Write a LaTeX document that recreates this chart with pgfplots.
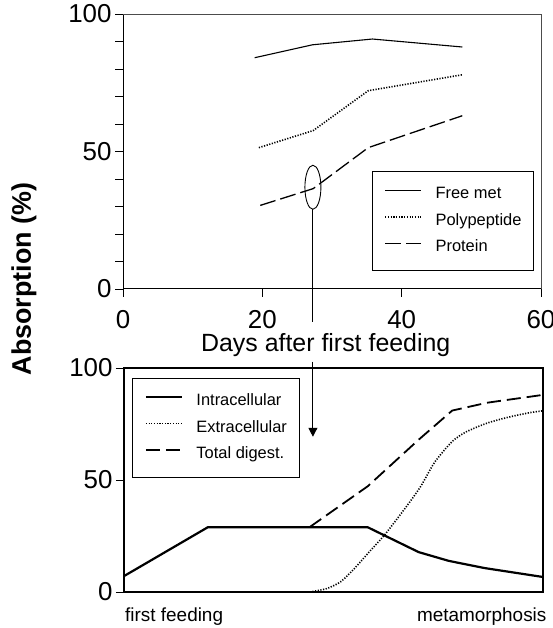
\documentclass[border=0pt]{standalone}
\usepackage{fontspec}
\setmainfont{Liberation Sans}
\usepackage{pgfplots}
\pgfplotsset{compat=1.18}
\usetikzlibrary{arrows.meta}

\pgfplotsset{
  legbox/.style={
    legend cell align=left,
    legend style={draw=black, line width=0.8bp, fill=white,
      font=\fontsize{16.5}{16.5}\selectfont,
      inner xsep=12bp, inner ysep=9.75bp, row sep=0pt, column sep=13.5bp,
      nodes={inner sep=0pt, text height=17.5bp, text depth=9bp}},
    legend image code/.code={\draw[##1] (0bp,4.5bp) -- (36bp,4.5bp);},
  },
}

\begin{document}
\begin{tikzpicture}
\path[use as bounding box] (0,0) rectangle (553bp,628bp);

% upper panel
\begin{axis}[
  name=top, at={(123bp,339bp)}, anchor=south west,
  scale only axis, width=418bp, height=275bp,
  xmin=0, xmax=60, ymin=0, ymax=100,
  axis x line*=bottom, axis y line*=left,
  axis line style={-, line width=1bp},
  xtick={0,20,40,60}, ytick={0,50,100}, minor ytick={10,20,...,90},
  tick align=outside, major tick length=8bp, minor tick length=8bp,
  tick style={black, line width=0.9bp},
  tick label style={font=\fontsize{26}{26}\selectfont},
  xticklabel style={yshift=-10bp},
  /pgf/number format/assume math mode=true,
  xlabel={Days after first feeding},
  xlabel style={font=\fontsize{25}{25}\selectfont, at={(axis description cs:0.485,0)}, anchor=base, yshift=-63bp},
  clip=false, legbox,
  legend style={at={(0.983,0.065)}, anchor=south east},
]
\addplot[black, line width=1.1bp] coordinates {(18.9,84.1)(27.2,88.8)(35.8,90.9)(48.7,88.0)};
\addlegendentry{Free met}
\addplot[black, line width=1.6bp, dash pattern=on 1.2bp off 1.5bp] coordinates {(19.5,51.4)(27.3,57.6)(35.2,72.1)(48.7,77.9)};
\addlegendentry{Polypeptide}
\addplot[black, line width=1.3bp, dash pattern=on 16bp off 5bp] coordinates {(19.7,30.4)(27.3,36.5)(35.2,51.4)(48.7,63.0)};
\addlegendentry{Protein}
\draw[black!70, line width=0.8bp] (rel axis cs:0,1) -- (rel axis cs:1,1) -- (rel axis cs:1,0);
\draw[line width=0.9bp] (axis cs:27.26,37) ellipse [x radius=8bp, y radius=22bp];
\coordinate (eb) at (axis cs:27.26,29);
\end{axis}

% lower panel
\begin{axis}[
  name=bot, at={(124bp,36bp)}, anchor=south west,
  scale only axis, width=419bp, height=224bp,
  xmin=0, xmax=60, ymin=0, ymax=100,
  axis line style={line width=1.1bp},
  xtick=\empty, ytick={0,50,100}, ytick pos=left,
  tick align=outside, major tick length=8bp,
  tick style={black, line width=0.9bp},
  tick label style={font=\fontsize{26}{26}\selectfont},
  /pgf/number format/assume math mode=true,
  clip=false, legbox,
  legend style={at={(0.020,0.955)}, anchor=north west},
]
\addplot[black, line width=2.2bp] coordinates {(0,7.1)(12,28.9)(34.9,28.9)(42.2,17.8)(46.5,13.9)(51.6,10.7)(60,6.7)};
\addlegendentry{Intracellular}
\addplot[black, line width=1.6bp, dash pattern=on 1.2bp off 1.5bp, smooth, tension=0.4] coordinates {(26.6,0)(29,1.5)(31,4.5)(33,10.5)(35,17.5)(37.4,25.8)(40.5,38.4)(42.5,47.2)(44.5,58)(47,67.2)(49,71.5)(52,75.4)(55,78)(58,80)(60,80.9)};
\addlegendentry{Extracellular}
\addplot[black, line width=1.8bp, dash pattern=on 14bp off 6bp] coordinates {(26.6,29)(34.9,47.2)(42.2,68)(47,81)(52,84.5)(60,88)};
\addlegendentry{Total digest.}
\coordinate (at) at (axis cs:27.26,69.3);
\end{axis}

\draw[line width=0.9bp] (eb) -- (eb |- 0,306.3bp);
\draw[line width=0.9bp, -{Triangle[length=9bp,width=9bp]}] (eb |- 0,266.3bp) -- (eb |- at);

\node[rotate=90, font=\bfseries\fontsize{27}{27}\selectfont] at (24bp,349bp) {Absorption (\%)};
\node[anchor=base west, font=\fontsize{19}{19}\selectfont, inner sep=0pt] at (125bp,6.3bp) {first feeding};
\node[anchor=base east, font=\fontsize{19}{19}\selectfont, inner sep=0pt] at (546.6bp,6.3bp) {metamorphosis};
\end{tikzpicture}
\end{document}
